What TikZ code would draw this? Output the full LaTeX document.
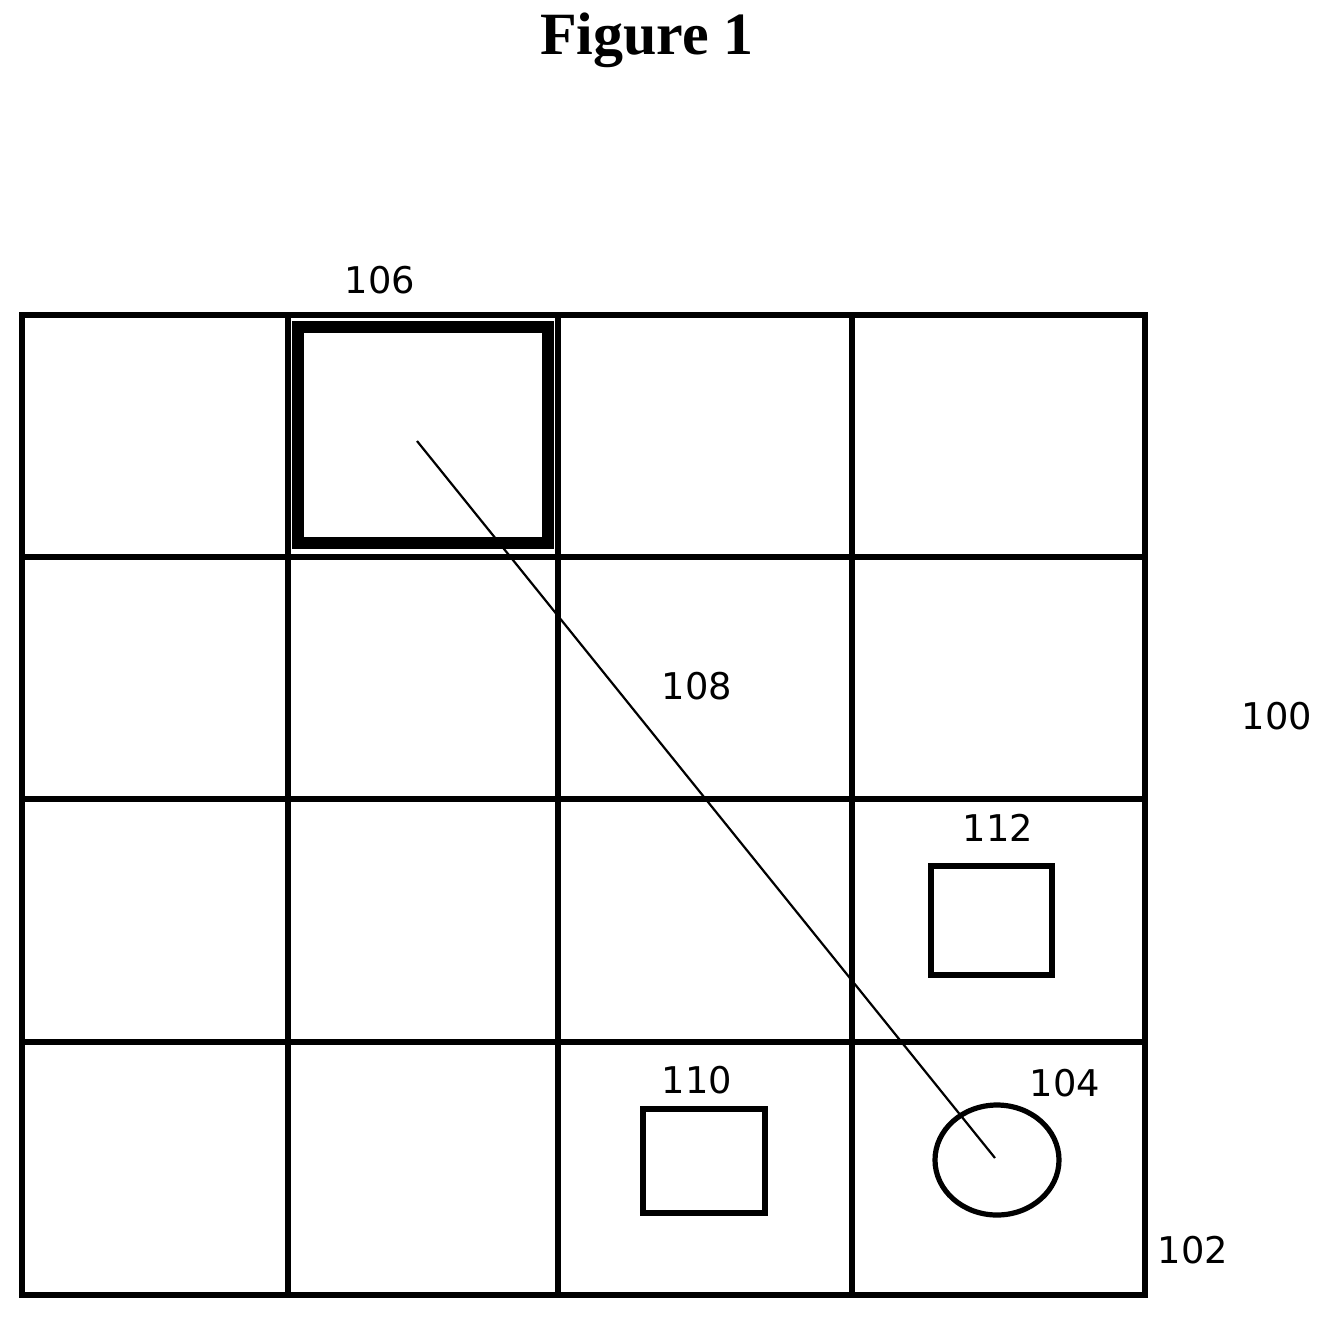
\documentclass[tikz,border=0pt]{standalone}
\usetikzlibrary{shapes.geometric}
\usepackage{fontspec}
\setmainfont{Liberation Serif}
\newfontfamily\lblfont{DejaVu Sans}[Scale=0.92]
\begin{document}
\begin{tikzpicture}[x=0.5pt,y=-0.5pt,
  grid/.style={line width=2.6pt,line cap=rect},
  lbl/.style={font=\lblfont\fontsize{20}{24}\selectfont,inner sep=0pt}]
\useasboundingbox (0,0) rectangle (1332,1319);
\node[font=\bfseries\fontsize{30}{34}\selectfont] (title) at (647,40) {Figure 1};
\foreach \x in {22,288,558,852,1145} \draw[grid] (\x,315) -- (\x,1295);
\foreach \y in {315,557,799,1042,1295} \draw[grid] (22,\y) -- (1145,\y);
\draw[line width=6pt] (298,327) rectangle (548,543);
\coordinate (s) at (417,441);
\node[draw,ellipse,line width=2.6pt,minimum width=62pt,minimum height=55pt,inner sep=0pt] (e) at (997,1160) {};
\coordinate (t) at (995,1158);
\draw[line width=1.1pt] (s) -- (t);
\draw[line width=2.6pt] (931,866) rectangle (1052,975);
\draw[line width=2.6pt] (643,1109) rectangle (765,1213);
\node[lbl] (l106) at (380,280) {106};
\node[lbl] (l108) at (697,686) {108};
\node[lbl] (l100) at (1277,716) {100};
\node[lbl] (l112) at (998,828) {112};
\node[lbl] (l110) at (697,1080) {110};
\node[lbl] (l104) at (1065,1083) {104};
\node[lbl] (l102) at (1193,1250) {102};
\end{tikzpicture}
\end{document}
